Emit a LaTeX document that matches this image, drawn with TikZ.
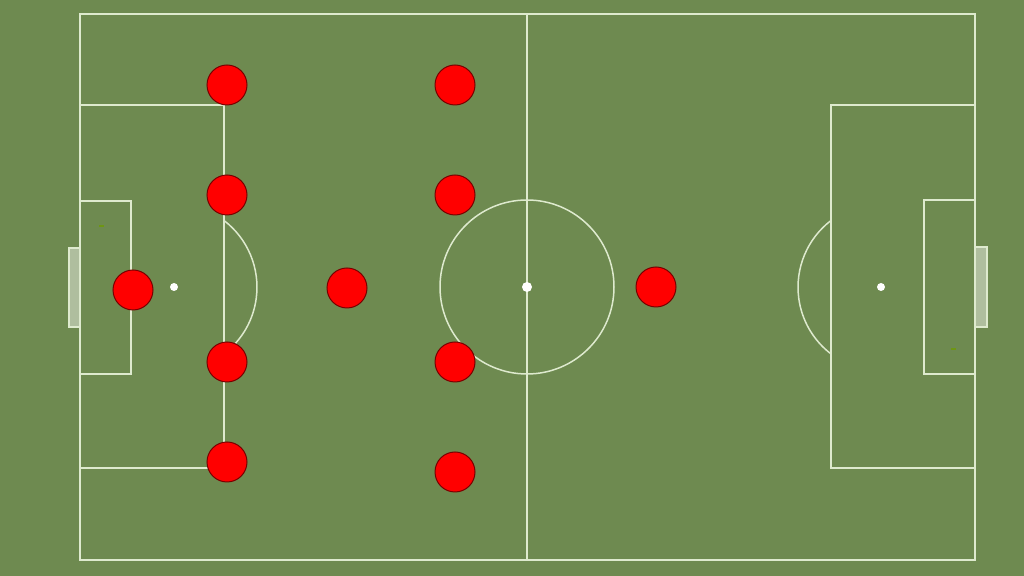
\documentclass[tikz,border=0pt]{standalone}
\usepackage{tikz}
\usepackage{xcolor}
\definecolor{grass}{RGB}{110,138,80}
\definecolor{chalk}{RGB}{222,234,206}
\definecolor{shirt}{RGB}{255,0,0}
\definecolor{shirtedge}{RGB}{120,0,0}
\definecolor{speck}{RGB}{110,150,20}
\tikzset{%
  pitchline/.style={draw=chalk, line width=0.75pt},
  player/.style={circle, fill=shirt, draw=shirtedge, line width=0.5pt, minimum size=20pt, inner sep=0pt},
  spot/.style={fill=white}
}

\begin{document}
\begin{tikzpicture}[x=0.5pt,y=-0.5pt]
\fill[grass] (0,0) rectangle (1024,576);
\useasboundingbox (0,0) rectangle (1024,576);
% goals
\fill[white, opacity=0.45] (69,248) rectangle (80,327);
\draw[chalk, line width=0.6pt] (69,248) rectangle (80,327);
\fill[white, opacity=0.45] (975,247) rectangle (987,327);
\draw[chalk, line width=0.6pt] (975,247) rectangle (987,327);
% pitch
\draw[pitchline] (80,14) rectangle (975,560);
\draw[pitchline] (527,14) -- (527,560);
\draw[pitchline] (527,287) circle [radius=87];
\fill[spot] (527,287) circle [radius=5];
% left end
\draw[pitchline] (80,105) rectangle (224,468);
\draw[pitchline] (80,201) rectangle (131,374);
\fill[spot] (174,287) circle [radius=4];
\draw[pitchline] (224,220.5) arc[start angle=-52.6, end angle=52.6, radius=84];
% right end
\draw[pitchline] (831,105) rectangle (975,468);
\draw[pitchline] (924,200) rectangle (975,374);
\fill[spot] (881,287) circle [radius=4];
\draw[pitchline] (831,220.5) arc[start angle=232.6, end angle=127.4, radius=84];
%\fill[speck] (101,226) circle [radius=2];
\fill[speck] (99,225) rectangle (104,227);
\fill[speck] (951,348) rectangle (956,350);
% players
\node[player] (gk)  at (133,290) {};
\node[player] (lb)  at (227,85)  {};
\node[player] (lcb) at (227,195) {};
\node[player] (rcb) at (227,362) {};
\node[player] (rb)  at (227,462) {};
\node[player] (dm)  at (347,288) {};
\node[player] (lm)  at (455,85)  {};
\node[player] (lcm) at (455,195) {};
\node[player] (rcm) at (455,362) {};
\node[player] (rm)  at (455,472) {};
\node[player] (st)  at (656,287) {};
\end{tikzpicture}
\end{document}
